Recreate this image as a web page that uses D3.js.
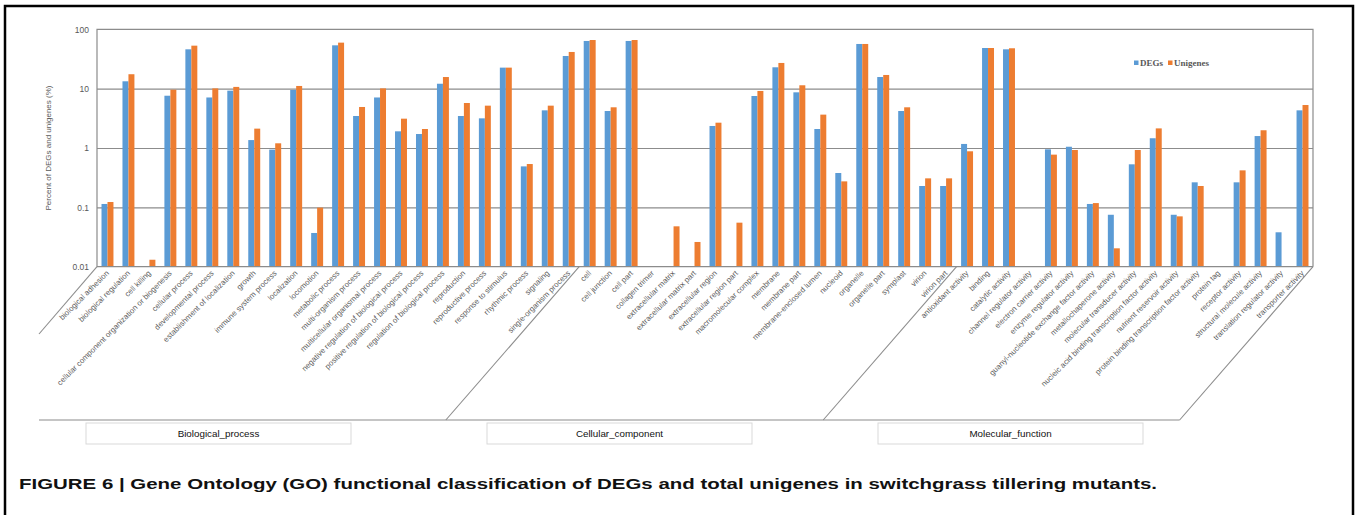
<!DOCTYPE html>
<html>
<head>
<meta charset="utf-8">
<script src="https://cdn.jsdelivr.net/npm/d3@7"></script>
<style>
  html, body { margin: 0; padding: 0; background: #fff; }
  svg { display: block; }
</style>
</head>
<body>
<svg id="chart" width="1359" height="515"></svg>
<script>
// GO terms, in axis order
const categories = [
  "biological adhesion", "biological regulation", "cell killing",
  "cellular component organization or biogenesis", "cellular process",
  "developmental process", "establishment of localization", "growth",
  "immune system process", "localization", "locomotion", "metabolic process",
  "multi-organism process", "multicellular organismal process",
  "negative regulation of biological process", "positive regulation of biological process",
  "regulation of biological process", "reproduction", "reproductive process",
  "response to stimulus", "rhythmic process", "signaling", "single-organism process",
  "cell", "cell junction", "cell part", "collagen trimer", "extracellular matrix",
  "extracellular matrix part", "extracellular region", "extracellular region part",
  "macromolecular complex", "membrane", "membrane part", "membrane-enclosed lumen",
  "nucleoid", "organelle", "organelle part", "symplast", "virion", "virion part",
  "antioxidant activity", "binding", "catalytic activity", "channel regulator activity",
  "electron carrier activity", "enzyme regulator activity",
  "guanyl-nucleotide exchange factor activity", "metallochaperone activity",
  "molecular transducer activity", "nucleic acid binding transcription factor activity",
  "nutrient reservoir activity", "protein binding transcription factor activity",
  "protein tag", "receptor activity", "structural molecule activity",
  "translation regulator activity", "transporter activity"
];

// Percent of DEGs per term (null = no genes)
const degs = [
  0.114, 13.3, null, 7.6, 46, 7.1, 9.25, 1.36, 0.94, 9.5, 0.037, 53.7,
  3.46, 7.1, 1.91, 1.72, 12.1, 3.46, 3.16, 22.6, 0.49, 4.31, 35.5,
  63.6, 4.2, 63.6, null, null, null, 2.35, null, 7.52, 22.9, 8.67, 2.09,
  0.379, 56.6, 15.7, 4.2, 0.229, 0.229,
  1.17, 48.4, 46, null, 0.95, 1.05, 0.114, 0.075, 0.531, 1.46,
  0.075, 0.264, null, 0.264, 1.59, 0.038, 4.31
];

// Percent of all unigenes per term (null = no genes)
const unigenes = [
  0.123, 17.5, 0.0131, 9.6, 53, 10.1, 10.7, 2.12, 1.2, 11.1, 0.099, 59.6,
  4.91, 10.1, 3.12, 2.09, 15.7, 5.73, 5.17, 22.6, 0.537, 5.17, 41.5,
  66, 4.85, 66, null, 0.0479, 0.0261, 2.67, 0.0552, 9.14, 27.1, 11.4, 3.65,
  0.274, 56.6, 17, 4.85, 0.308, 0.308,
  0.88, 48.4, 47.9, null, 0.773, 0.925, 0.118, 0.0204, 0.925, 2.14,
  0.0705, 0.229, null, 0.42, 1.99, null, 5.3
];

const groups = ["Biological_process", "Cellular_component", "Molecular_function"];
const groupSizes = [23, 18, 17];

const seriesNames = ["DEGs", "Unigenes"];
const yTicks = [0.01, 0.1, 1, 10, 100];
const yTickLabels = ["0.01", "0.1", "1", "10", "100"];

const colors = { DEGs: "#5B9BD5", Unigenes: "#ED7D31" };
const seriesValues = { DEGs: degs, Unigenes: unigenes };

const svg = d3.select("#chart");

// outer frame of the figure
svg.append("rect")
  .attr("x", 5).attr("y", 6).attr("width", 1348).attr("height", 520)
  .attr("fill", "none").attr("stroke", "#000").attr("stroke-width", 2.5);

const plot = { left: 97, right: 1313, top: 29.3, bottom: 266.7 };

const x = d3.scaleBand()
  .domain(categories)
  .range([plot.left, plot.right])
  .paddingInner(0.43)
  .paddingOuter(0.215);

const xSeries = d3.scaleBand()
  .domain(seriesNames)
  .range([0, x.bandwidth()]);

const y = d3.scaleLog()
  .domain([0.01, 100])
  .range([plot.bottom, plot.top]);

// horizontal gridlines
svg.append("g")
  .attr("transform", `translate(${plot.left},0)`)
  .call(d3.axisLeft(y).tickValues(yTicks.slice(1, 4)).tickSize(-(plot.right - plot.left)).tickFormat(""))
  .call(g => g.select(".domain").remove())
  .call(g => g.selectAll("line").attr("stroke", "#8c8c8c").attr("stroke-width", 1.2));

// plot frame (top, left, right)
svg.append("path")
  .attr("d", `M${plot.left},${plot.bottom}V${plot.top}H${plot.right}V${plot.bottom}`)
  .attr("fill", "none").attr("stroke", "#8c8c8c").attr("stroke-width", 1.2);

// y axis tick labels
svg.append("g")
  .attr("transform", `translate(${plot.left},0)`)
  .call(d3.axisLeft(y).tickValues(yTicks).tickSize(0).tickPadding(8)
    .tickFormat((d, i) => yTickLabels[i]))
  .call(g => g.select(".domain").remove())
  .call(g => g.selectAll("text")
    .attr("fill", "#595959")
    .style("font-family", "Liberation Sans, Arial, sans-serif")
    .style("font-size", "8.5px"));

// y axis title
svg.append("text")
  .attr("transform", `translate(51,${(plot.top + plot.bottom) / 2}) rotate(-90)`)
  .attr("text-anchor", "middle")
  .attr("fill", "#595959")
  .style("font-family", "Liberation Sans, Arial, sans-serif")
  .style("font-size", "8px")
  .text("Percent of DEGs and unigenes (%)");

// bars
const barData = [];
categories.forEach((c, i) => {
  seriesNames.forEach(s => {
    const v = seriesValues[s][i];
    if (v != null) barData.push({ cat: c, series: s, value: v });
  });
});

svg.append("g")
  .selectAll("rect")
  .data(barData)
  .join("rect")
  .attr("x", d => x(d.cat) + xSeries(d.series))
  .attr("width", xSeries.bandwidth())
  .attr("y", d => y(d.value))
  .attr("height", d => y.range()[0] - y(d.value))
  .attr("fill", d => colors[d.series]);

// bottom axis line
svg.append("line")
  .attr("x1", plot.left).attr("x2", plot.right)
  .attr("y1", plot.bottom).attr("y2", plot.bottom)
  .attr("stroke", "#8c8c8c").attr("stroke-width", 1.2);

// rotated category labels
svg.append("g")
  .attr("transform", `translate(0,${plot.bottom})`)
  .call(d3.axisBottom(x).tickSize(0).tickPadding(0))
  .call(g => g.select(".domain").remove())
  .call(g => g.selectAll("text")
    .attr("text-anchor", "end")
    .attr("fill", "#595959")
    .attr("y", 0).attr("dy", 0)
    .attr("transform", "translate(2,7) rotate(-45)")
    .style("font-family", "Liberation Sans, Arial, sans-serif")
    .style("font-size", "7.8px"));

// group separators below the axis
const sepY = 420;
const step = x.step();
const boundaryX = i => plot.left + i * step;
const slant = 0.87; // horizontal run per unit of drop
const lineColor = "#8c8c8c";
const sep = svg.append("g").attr("stroke", lineColor).attr("stroke-width", 1.1).attr("fill", "none");

sep.append("path").attr("d", `M${plot.left},${plot.bottom}L39,334`);
sep.append("path").attr("d", `M39,${sepY}H${plot.right - (sepY - plot.bottom) * slant}`);
let cum = 0;
groupSizes.forEach((n, gi) => {
  cum += n;
  const bx = boundaryX(cum);
  sep.append("path").attr("d", `M${bx},${plot.bottom}L${bx - (sepY - plot.bottom) * slant},${sepY}`);
});

// group label boxes
const boxLefts = [86, 487, 878];
const boxW = 265, boxH = 21, boxY = 423;
const gBoxes = svg.append("g")
  .selectAll("g")
  .data(groups)
  .join("g")
  .attr("transform", (d, i) => `translate(${boxLefts[i]},${boxY})`);
gBoxes.append("rect")
  .attr("width", boxW).attr("height", boxH)
  .attr("fill", "#fff").attr("stroke", "#d9d9d9").attr("stroke-width", 1);
gBoxes.append("text")
  .attr("x", boxW / 2).attr("y", 14)
  .attr("text-anchor", "middle")
  .attr("fill", "#111")
  .style("font-family", "Liberation Sans, Arial, sans-serif")
  .style("font-size", "9.8px")
  .text(d => d);

// legend
const legend = svg.append("g")
  .attr("transform", "translate(1134,60.5)")
  .selectAll("g")
  .data(seriesNames)
  .join("g")
  .attr("transform", (d, i) => `translate(${i * 34},0)`);
legend.append("rect")
  .attr("width", 4.5).attr("height", 4.5)
  .attr("fill", d => colors[d]);
legend.append("text")
  .attr("x", 6).attr("y", 5)
  .attr("fill", "#595959")
  .style("font-family", "Liberation Serif, Times New Roman, serif")
  .style("font-weight", "bold")
  .style("font-size", "9px")
  .text(d => d);

// caption
svg.append("text")
  .attr("x", 19).attr("y", 489)
  .attr("fill", "#111")
  .attr("textLength", 1138)
  .attr("lengthAdjust", "spacingAndGlyphs")
  .style("font-family", "Liberation Sans, Arial, sans-serif")
  .style("font-weight", "bold")
  .style("font-size", "15.5px")
  .text("FIGURE 6 | Gene Ontology (GO) functional classification of DEGs and total unigenes in switchgrass tillering mutants.");
</script>
</body>
</html>
